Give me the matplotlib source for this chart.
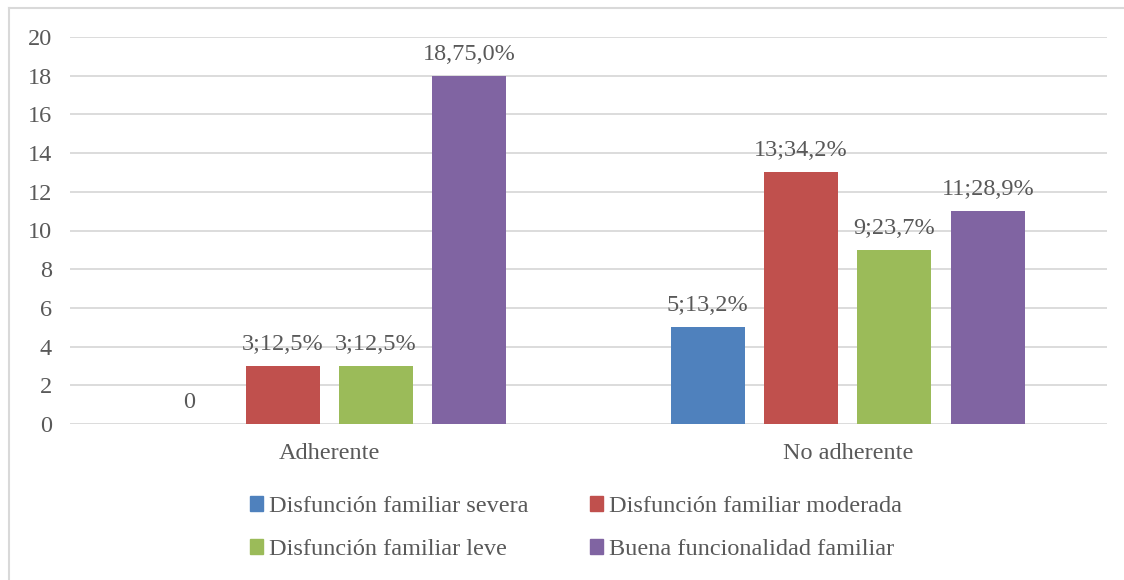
import matplotlib.pyplot as plt
import numpy as np
from matplotlib.lines import Line2D
from matplotlib.patches import Patch

# Datos
categorias = ['Adherente', 'No adherente']
series = ['Disfunción familiar severa', 'Disfunción familiar moderada',
          'Disfunción familiar leve', 'Buena funcionalidad familiar']
severa = [0, 5]
moderada = [3, 13]
leve = [3, 9]
buena = [18, 11]
etiquetas = [['0', '5;13,2%'],
             ['3;12,5%', '13;34,2%'],
             ['3;12,5%', '9;23,7%'],
             ['18,75,0%', '11;28,9%']]
colores = ['#4F81BD', '#C0504D', '#9BBB59', '#8064A2']
yticks = [0, 2, 4, 6, 8, 10, 12, 14, 16, 18, 20]

gris = '#595959'
fs = 17.5
plt.rcParams['font.family'] = ['Liberation Serif', 'DejaVu Serif']
plt.rcParams['font.size'] = fs

W, H = 1124, 580
fig = plt.figure(figsize=(W / 100, H / 100), dpi=100)
ax = fig.add_axes([70 / W, 1 - 424 / H, (1107 - 70) / W, (424 - 37) / H])

x = np.arange(len(categorias))
ancho = 0.1427
paso = 0.18
valores = [severa, moderada, leve, buena]
for i, (vals, col) in enumerate(zip(valores, colores)):
    pos = x + (i - 1.5) * paso
    ax.bar(pos, vals, ancho, color=col, zorder=3)
    for p, v, t in zip(pos, vals, etiquetas[i]):
        ax.annotate(t, (p, v), xytext=(0, 8), textcoords='offset points',
                    ha='center', va='bottom', color=gris, fontsize=fs)

ax.set_xlim(-0.5, 1.5)
ax.set_ylim(0, 20)
ax.set_yticks(yticks)
ax.set_xticks(x)
ax.set_xticklabels(categorias)
ax.grid(axis='y', color='#D9D9D9', linewidth=1.3, zorder=0)
ax.set_axisbelow(True)
for s in ax.spines.values():
    s.set_visible(False)
ax.tick_params(axis='both', length=0, colors=gris, labelsize=fs)
ax.tick_params(axis='y', pad=13)
ax.tick_params(axis='x', pad=14)

# leyenda (orden por columnas)
orden = [0, 2, 1, 3]
handles = [Patch(color=colores[k]) for k in orden]
labels = [series[k] for k in orden]
fig.legend(handles, labels, ncol=2, loc='center', frameon=False,
           bbox_to_anchor=(576 / W, 1 - 528 / H), handlelength=0.54,
           handleheight=0.54, handletextpad=0.25, columnspacing=2.5,
           labelspacing=0.9, labelcolor=gris, fontsize=fs)

# borde exterior (izquierda y arriba)
fig.add_artist(Line2D([8.5 / W, 8.5 / W], [0, 1 - 7.5 / H],
                      transform=fig.transFigure, color='#D9D9D9', lw=1.5))
fig.add_artist(Line2D([8.5 / W, 1], [1 - 7.5 / H, 1 - 7.5 / H],
                      transform=fig.transFigure, color='#D9D9D9', lw=1.5))

fig.savefig('out.png', dpi=100)
